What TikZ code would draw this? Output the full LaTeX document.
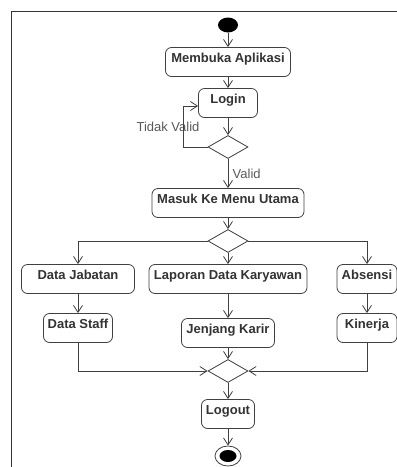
\documentclass[tikz,border=0pt]{standalone}
\usepackage{fontspec}
\setmainfont{Liberation Sans}
\usetikzlibrary{shapes.geometric,arrows.meta}

\tikzset{
  act/.style={draw=black!75, fill=white, rounded corners=6pt,
    font=\fontsize{13}{15}\selectfont\bfseries, text=black!80,
    text height=11.5pt, text depth=11.5pt, inner xsep=3pt, inner ysep=3pt},
  dec/.style={draw=black!75, fill=white, diamond, aspect=1.74,
    minimum width=40pt, minimum height=23pt, inner sep=0pt},
  flow/.style={draw=black!75, ->},
  guard/.style={font=\fontsize{13}{15}\selectfont, text=black!65}
}

\begin{document}
\begin{tikzpicture}[x=1pt, y=-1pt, line width=0.8pt,
  >={Straight Barb[length=7pt,width=9pt]}]

\useasboundingbox (0,0) rectangle (397,467);
\draw [black!80] (397,11) -- (11,11) -- (11,467);

\node [fill=black, ellipse, minimum width=20pt, minimum height=15pt, inner sep=0pt] (mulai) at (228,25) {};
\node [act, minimum width=125pt] (buka) at (228,62) {Membuka Aplikasi};
\node [act, minimum width=59pt] (login) at (228,103) {Login};
\node [dec] (cek) at (228,147) {};
\node [act, minimum width=152pt] (menu) at (228,203) {Masuk Ke Menu Utama};
\node [dec] (pilih) at (228,241) {};
\node [act, minimum width=113pt] (jabatan) at (78,279) {Data Jabatan};
\node [act, minimum width=158pt] (laporan) at (228,279) {Laporan Data Karyawan};
\node [act, minimum width=60pt] (absensi) at (367,279) {Absensi};
\node [act, minimum width=69pt] (staff) at (78,328) {Data Staff};
\node [act, minimum width=93pt] (karir) at (228,333) {Jenjang Karir};
\node [act, minimum width=60pt] (kinerja) at (367,328) {Kinerja};
\node [dec] (gabung) at (228,371) {};
\node [act, minimum width=53pt] (logout) at (228,414) {Logout};
\node [draw=black!75, fill=white, ellipse, minimum width=26pt, minimum height=20pt, inner sep=0pt] (selesai) at (228,456) {};
\node [fill=black, ellipse, minimum width=17pt, minimum height=12pt, inner sep=0pt] (titik) at (selesai) {};

\node [guard] (tidak) at (168,127) {Tidak Valid};
\node [guard, anchor=west] (valid) at (229,174) {Valid};
\coordinate (balik) at (183,106);

\draw [flow] (mulai) -- (buka);
\draw [flow] (buka) -- (login);
\draw [flow] (login) -- (cek);
\draw [flow] (cek) -- (menu);
\draw [flow] (cek.west) -| (balik) -- (balik -| login.west);
\draw [flow] (menu) -- (pilih);

\draw [flow] (pilih.west) -| (jabatan.north);
\draw [flow] (pilih) -- (laporan);
\draw [flow] (pilih.east) -| (absensi.north);

\draw [flow] (jabatan) -- (staff);
\draw [flow] (laporan) -- (karir);
\draw [flow] (absensi) -- (kinerja);

\draw [flow] (staff.south) |- (gabung.west);
\draw [flow] (karir) -- (gabung);
\draw [flow] (kinerja.south) |- (gabung.east);

\draw [flow] (gabung) -- (logout);
\draw [flow] (logout) -- (selesai);
\end{tikzpicture}
\end{document}
